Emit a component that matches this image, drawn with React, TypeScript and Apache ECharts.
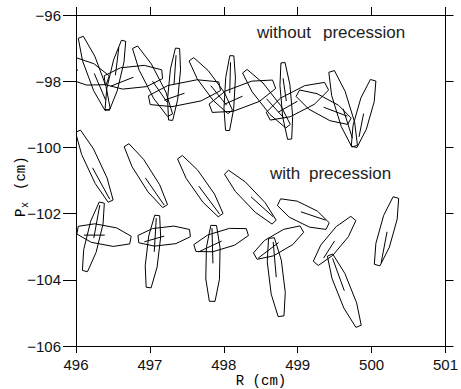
import React, { useEffect, useRef } from "react";
import * as echarts from "echarts";

// Each shape: [centreR, centrePx, tipR, tipPx, widthRatio, lineR1, linePx1, lineR2, linePx2]
const withoutPrecession: number[][] = [
  [496.027, -97.669, 496.429, -97.971, 0.36, 496.027, -97.669, 495.759, -97.548],
  [496.247, -97.767, 496.429, -98.861, 0.17, 496.247, -97.767, 496.402, -98.575],
  [496.533, -97.823, 496.422, -98.867, 0.15, 496.533, -97.823, 496.58, -96.975],
  [496.777, -97.88, 497.166, -97.79, 0.37, 496.777, -97.88, 496.469, -98.152],
  [497.036, -98.001, 497.273, -99.027, 0.18, 497.036, -98.001, 497.233, -98.635],
  [497.327, -98.092, 497.28, -99.178, 0.14, 497.327, -98.092, 497.354, -97.216],
  [497.468, -98.363, 497.944, -98.152, 0.3, 497.468, -98.363, 497.193, -98.575],
  [497.824, -98.133, 498.087, -98.928, 0.21, 497.824, -98.133, 498.038, -98.726],
  [498.08, -98.36, 498.051, -99.489, 0.13, 498.08, -98.36, 498.091, -97.428],
  [498.252, -98.454, 498.681, -98.092, 0.32, 498.252, -98.454, 498.011, -98.695],
  [498.577, -98.529, 498.869, -99.359, 0.2, 498.577, -98.529, 498.815, -99.118],
  [498.846, -98.597, 498.891, -99.752, 0.13, 498.846, -98.597, 498.802, -97.911],
  [498.996, -98.605, 499.391, -98.152, 0.32, 498.996, -98.605, 498.735, -98.937],
  [499.351, -98.786, 499.7, -99.209, 0.3, 499.351, -98.786, 499.673, -99.058],
  [499.615, -98.834, 499.771, -99.963, 0.18, 499.615, -98.834, 499.74, -99.722],
  [499.892, -98.978, 499.763, -99.984, 0.2, 499.892, -98.978, 499.83, -99.682],
];

const withPrecessionUpper: number[][] = [
  [496.248, -100.567, 496.469, -101.623, 0.17, 496.224, -100.618, 496.456, -101.563],
  [496.945, -100.854, 497.206, -101.774, 0.19, 496.938, -100.92, 497.193, -101.744],
  [497.682, -101.171, 497.957, -102.046, 0.2, 497.662, -101.171, 497.944, -102.016],
  [498.359, -101.503, 498.681, -102.257, 0.2, 498.369, -101.494, 498.668, -102.097],
  [499.076, -102.016, 499.405, -102.378, 0.33, 499.043, -101.946, 499.378, -102.197],
  [500.202, -102.535, 500.075, -103.555, 0.2, 500.209, -102.55, 500.129, -103.495],
];

const withPrecessionLower: number[][] = [
  [496.379, -102.65, 496.737, -102.8, 0.35, 496.107, -102.65, 496.389, -102.65],
  [496.235, -102.702, 496.121, -103.736, 0.18, 496.241, -102.74, 496.322, -101.744],
  [497.193, -102.68, 497.542, -102.589, 0.34, 496.925, -102.852, 497.193, -102.68],
  [497.041, -103.145, 496.983, -104.234, 0.165, 497.059, -103.154, 497.086, -102.136],
  [497.964, -102.8, 498.319, -102.559, 0.32, 497.662, -103.154, 497.971, -102.83],
  [497.853, -103.504, 497.843, -104.651, 0.18, 497.84, -102.438, 497.853, -103.504],
  [498.741, -102.876, 499.056, -102.468, 0.33, 498.466, -103.344, 498.741, -102.876],
  [498.71, -103.92, 498.775, -105.101, 0.18, 498.668, -102.852, 498.71, -103.92],
  [499.499, -102.825, 499.753, -102.146, 0.27, 499.499, -102.825, 499.351, -103.344],
  [499.631, -104.329, 499.824, -105.405, 0.18, 499.472, -103.353, 499.631, -104.329],
];

const xTicks = { min: 496, max: 501, step: 1 };
const yTicks = { min: -106, max: -96, step: 2 };
const upperWords = ["without", "precession"];
const lowerWords = ["with", "precession"];

function renderShape(_params: any, api: any) {
  const c = api.coord([api.value(0), api.value(1)]);
  const t = api.coord([api.value(2), api.value(3)]);
  const r = api.value(4);
  const k = 1 / Math.cos(Math.PI / 8);
  const ux = (t[0] - c[0]) * k;
  const uy = (t[1] - c[1]) * k;
  const vx = -uy * r;
  const vy = ux * r;
  const pts: number[][] = [];
  for (let i = 0; i < 8; i++) {
    const th = Math.PI / 8 + (i * Math.PI) / 4;
    pts.push([
      c[0] + ux * Math.cos(th) + vx * Math.sin(th),
      c[1] + uy * Math.cos(th) + vy * Math.sin(th),
    ]);
  }
  const a = api.coord([api.value(5), api.value(6)]);
  const b = api.coord([api.value(7), api.value(8)]);
  return {
    type: "group",
    children: [
      {
        type: "polygon",
        shape: { points: pts },
        style: { fill: "none", stroke: "#000", lineWidth: 1 },
      },
      {
        type: "line",
        shape: { x1: a[0], y1: a[1], x2: b[0], y2: b[1] },
        style: { stroke: "#000", lineWidth: 1 },
      },
    ],
  };
}

const fmtY = (v: number) => (v < 0 ? "\u2212" : "") + Math.abs(v);

export default function App() {
  const ref = useRef<HTMLDivElement>(null);
  useEffect(() => {
    if (!ref.current) return;
    const chart = echarts.init(ref.current, null, { renderer: "svg" });
    const axisLine = { show: true, lineStyle: { color: "#000", width: 1 } };
    const tickLabel = { color: "#111", fontFamily: "'Liberation Sans', Arial, sans-serif", fontSize: 15 };
    const mkSeries = (name: string, data: number[][]) => ({
      type: "custom",
      name,
      renderItem: renderShape,
      data,
      clip: true,
      encode: { x: 0, y: 1 },
      dimensions: ["cx", "cy", "tx", "ty", "r", "l1x", "l1y", "l2x", "l2y"],
      silent: true,
    });
    const textFont = "17px 'Liberation Sans', Arial, sans-serif";
    chart.setOption({
      animation: false,
      grid: { left: 76, right: 12, top: 15, bottom: 43, containLabel: false },
      xAxis: [
        {
          type: "value",
          min: xTicks.min,
          max: xTicks.max,
          interval: xTicks.step,
          position: "bottom",
          axisLine,
          axisTick: { show: true, inside: false, length: 7, lineStyle: { color: "#000" } },
          axisLabel: { ...tickLabel, margin: 11 },
          splitLine: { show: false },
        },
        {
          type: "value",
          min: xTicks.min,
          max: xTicks.max,
          interval: xTicks.step,
          position: "top",
          axisLine,
          axisTick: { show: true, inside: false, length: 8, lineStyle: { color: "#000" } },
          axisLabel: { show: false },
          splitLine: { show: false },
        },
      ],
      yAxis: [
        {
          type: "value",
          min: yTicks.min,
          max: yTicks.max,
          interval: yTicks.step,
          position: "left",
          axisLine,
          axisTick: { show: true, inside: false, length: 13, lineStyle: { color: "#000" } },
          axisLabel: { ...tickLabel, margin: 15, formatter: fmtY },
          splitLine: { show: false },
        },
        {
          type: "value",
          min: yTicks.min,
          max: yTicks.max,
          interval: yTicks.step,
          position: "right",
          axisLine,
          axisTick: { show: true, inside: false, length: 8, lineStyle: { color: "#000" } },
          axisLabel: { show: false },
          splitLine: { show: false },
        },
      ],
      series: [
        mkSeries("without precession", withoutPrecession),
        mkSeries("with precession upper", withPrecessionUpper),
        mkSeries("with precession lower", withPrecessionLower),
      ],
      graphic: [
        { type: "text", left: 257, top: 24, style: { text: upperWords[0], fill: "#222", font: textFont } },
        { type: "text", left: 323, top: 24, style: { text: upperWords[1], fill: "#222", font: textFont } },
        { type: "text", left: 270, top: 165, style: { text: lowerWords[0], fill: "#222", font: textFont } },
        { type: "text", left: 309, top: 165, style: { text: lowerWords[1], fill: "#222", font: textFont } },
        {
          type: "text",
          x: 261,
          y: 381,
          style: {
            text: "R (cm)",
            fill: "#000",
            font: "14px 'Liberation Mono', 'Courier New', monospace",
            align: "center",
            verticalAlign: "middle",
          },
        },
        {
          type: "group",
          x: 21,
          y: 217,
          rotation: Math.PI / 2,
          children: [
            {
              type: "text",
              x: 0,
              y: 0,
              style: { text: "P", fill: "#000", font: "14px 'Liberation Mono', monospace", align: "left", verticalAlign: "middle" },
            },
            {
              type: "text",
              x: 9,
              y: 4,
              style: { text: "x", fill: "#000", font: "10px 'Liberation Mono', monospace", align: "left", verticalAlign: "middle" },
            },
            {
              type: "text",
              x: 27,
              y: 0,
              style: { text: "(cm)", fill: "#000", font: "14px 'Liberation Mono', monospace", align: "left", verticalAlign: "middle" },
            },
          ],
        },
      ],
    });
    return () => chart.dispose();
  }, []);
  return <div ref={ref} style={{ width: 461, height: 389, position: "absolute", left: 0, top: 0 }} />;
}
